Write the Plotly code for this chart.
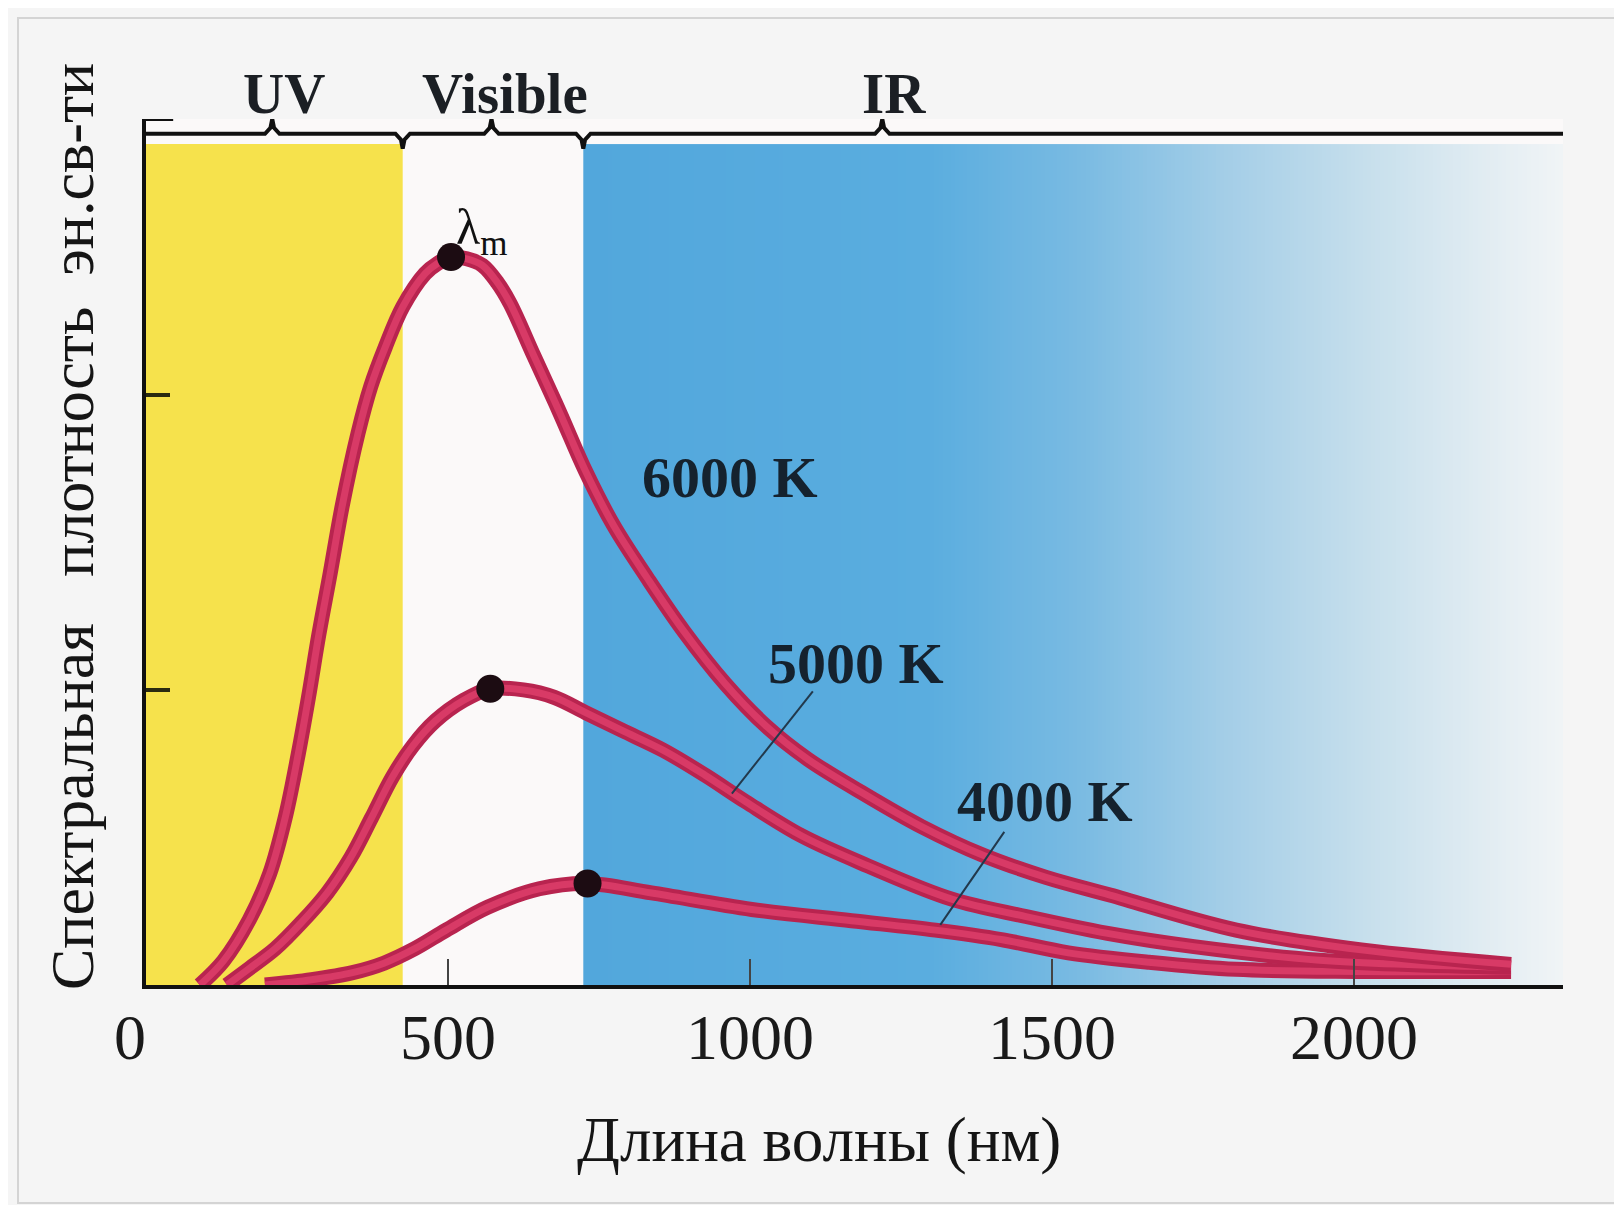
import numpy as np
import plotly.graph_objects as go

# ---------------- data ----------------
# wavelength (nm) / spectral energy density (arbitrary units, y-ticks at 1 and 2)
wl_6000 = [89, 128, 171, 205, 231, 252, 269, 286, 305, 325, 351, 372, 396, 425, 462, 483,
           505, 531, 557, 582, 603, 642, 685, 728, 774, 830, 890, 959, 1027, 1096, 1182,
           1284, 1387, 1490, 1596, 1805, 2012, 2260]
u_6000 = [0.00, 0.081, 0.221, 0.379, 0.572, 0.782, 0.975, 1.186, 1.396, 1.625, 1.870, 2.028,
          2.161, 2.298, 2.411, 2.446, 2.467, 2.461, 2.439, 2.380, 2.309, 2.133, 1.940, 1.740,
          1.558, 1.379, 1.200, 1.021, 0.877, 0.765, 0.656, 0.537, 0.439, 0.365, 0.305,
          0.186, 0.119, 0.070]

wl_5000 = [134, 171, 214, 257, 300, 339, 373, 408, 442, 479, 526, 570, 625, 676, 728, 788,
           856, 925, 993, 1086, 1195, 1334, 1457, 1592, 1735, 1943, 2260]
u_5000 = [0.00, 0.056, 0.123, 0.211, 0.312, 0.432, 0.565, 0.705, 0.811, 0.895, 0.965, 1.004,
          1.000, 0.975, 0.923, 0.863, 0.796, 0.712, 0.621, 0.505, 0.404, 0.291, 0.232, 0.175,
          0.130, 0.084, 0.060]

wl_4000 = [197, 274, 342, 394, 445, 497, 565, 651, 731, 837, 1003, 1168, 1307, 1416, 1527,
           1661, 1805, 2012, 2260]
u_4000 = [0.00, 0.018, 0.042, 0.074, 0.123, 0.186, 0.263, 0.326, 0.344, 0.312, 0.256, 0.218,
          0.186, 0.154, 0.109, 0.077, 0.053, 0.046, 0.046]

curve_labels = ["6000 K", "5000 K", "4000 K"]
label_x = [967, 1175, 1488]
label_y = [1.72, 1.088, 0.621]

# peaks (lambda_m)
peak_wl = [505, 570, 731]
peak_u = [2.467, 1.004, 0.344]

# leader lines for the 5000 K and 4000 K labels: (x0, y0, x1, y1)
leader_5000 = [1104, 0.995, 970, 0.649]
leader_4000 = [1421, 0.519, 1315, 0.204]

# spectral regions
region_names = ["UV", "Visible", "IR"]
region_centres = [228, 594, 1238]
region_ticks = [209, 572, 1219]
region_edges = [425, 724]

x_ticks = [0, 500, 1000, 1500, 2000]
x_tick_text = ["0\u00a0\u00a0", "500", "1000", "1500", "2000"]
y_ticks = [1, 2]

X_MAX = 2346
Y_MAX = 2.935
BAND_TOP = 2.85
BRACKET_Y = 2.885

# ---------------- figure ----------------
W, H = 1622, 1205
ML, MR, MT, MB = 138, 67, 111, 228
PW, PH = W - ML - MR, H - MT - MB

fig = go.Figure()

# IR band: horizontal blue -> white gradient
nb = 240
xe = np.linspace(region_edges[1], X_MAX, nb + 1)
ramp = np.linspace(0, 1, nb)
fig.add_trace(go.Heatmap(
    x=xe, y=[0, BAND_TOP], z=[ramp],
    colorscale=[[0.0, '#52a7dc'], [0.35, '#5aaddf'], [0.50, '#78bae2'],
                [0.65, '#a2cde7'], [0.80, '#c6dfec'], [0.92, '#e1ecf2'], [1.0, '#f0f4f6']],
    showscale=False, hoverinfo='skip', zmin=0, zmax=1))

# curves (outer dark stroke + lighter core)
series = [(wl_4000, u_4000), (wl_5000, u_5000), (wl_6000, u_6000)]
for wl, u in series:
    fig.add_trace(go.Scatter(x=wl, y=u, mode='lines',
                             line=dict(color='#b8244f', width=15, shape='spline', smoothing=1.0),
                             hoverinfo='skip'))
    fig.add_trace(go.Scatter(x=wl, y=u, mode='lines',
                             line=dict(color='#d83a66', width=7, shape='spline', smoothing=1.0),
                             hoverinfo='skip'))

# peak dots
fig.add_trace(go.Scatter(x=peak_wl, y=peak_u, mode='markers',
                         marker=dict(color='#1c0c12', size=28), hoverinfo='skip'))

# leader lines
for ld in (leader_5000, leader_4000):
    fig.add_trace(go.Scatter(x=[ld[0], ld[2]], y=[ld[1], ld[3]], mode='lines',
                             line=dict(color='#22394c', width=2), hoverinfo='skip'))

# bracket along the top
bx, by = [0], [BRACKET_Y]
marks = sorted([(c, 0.05) for c in region_ticks] + [(e, -0.05) for e in region_edges])
for pos, d in marks:
    bx += [pos - 12, pos - 3, pos, pos + 3, pos + 12]
    by += [BRACKET_Y, BRACKET_Y + d * 0.4, BRACKET_Y + d, BRACKET_Y + d * 0.4, BRACKET_Y]
bx.append(X_MAX)
by.append(BRACKET_Y)
fig.add_trace(go.Scatter(x=bx, y=by, mode='lines', line=dict(color='#111111', width=4),
                         hoverinfo='skip', cliponaxis=False))
# small corner at the top of the y-axis
fig.add_trace(go.Scatter(x=[0, 45], y=[Y_MAX, Y_MAX], mode='lines',
                         line=dict(color='#111111', width=4), hoverinfo='skip', cliponaxis=False))

# yellow UV band
fig.add_shape(type='rect', xref='x', yref='y', x0=0, x1=region_edges[0], y0=0, y1=BAND_TOP,
              fillcolor='#f6e24c', line=dict(width=0), layer='below')

# outer frame of the scanned page
fig.add_shape(type='rect', xref='paper', yref='paper',
              x0=(10 - ML) / PW, x1=(W - 10 - ML) / PW,
              y0=-(H - 10 - (MT + PH)) / PH, y1=1 + (MT - 10) / PH,
              line=dict(color='#d4d4d4', width=2), fillcolor='rgba(0,0,0,0)', layer='below')

serif = "Liberation Serif"
ann = []
for name, c in zip(region_names, region_centres):
    ann.append(dict(x=c, y=1 + (MT - 85) / PH, xref='x', yref='paper', text=f"<b>{name}</b>",
                    showarrow=False, xanchor='center', yanchor='middle',
                    font=dict(family=serif, size=57, color='#1b1f24')))
for t, lx, ly in zip(curve_labels, label_x, label_y):
    ann.append(dict(x=lx, y=ly, xref='x', yref='y', text=f"<b>{t}</b>", showarrow=False,
                    xanchor='center', yanchor='middle',
                    font=dict(family=serif, size=58, color='#15222e')))
ann.append(dict(x=peak_wl[0] + 50, y=2.555, xref='x', yref='y', text="λ<sub>m</sub>",
                showarrow=False, xanchor='center', yanchor='middle',
                font=dict(family=serif, size=50, color='#111111')))
ann.append(dict(x=(811 - ML) / PW, y=-(1132 - (MT + PH)) / PH, xref='paper', yref='paper',
                text="Длина волны (нм)", showarrow=False, xanchor='center', yanchor='middle',
                font=dict(family=serif, size=63, color='#151515')))
ann.append(dict(x=(64 - ML) / PW, y=(MT + PH - 519) / PH, xref='paper', yref='paper',
                text="Спектральная\u00a0\u00a0\u00a0плотность\u00a0\u00a0эн.св-ти", textangle=-90,
                showarrow=False, xanchor='center', yanchor='middle',
                font=dict(family=serif, size=62, color='#151515')))

fig.update_layout(
    width=W, height=H,
    margin=dict(l=ML, r=MR, t=MT, b=MB),
    paper_bgcolor='#f5f5f5', plot_bgcolor='#fbf9f9',
    showlegend=False, annotations=ann,
    xaxis=dict(range=[0, X_MAX], tickvals=x_ticks, ticktext=x_tick_text, ticks='inside',
               ticklen=26, tickwidth=2, tickcolor='#444444', showgrid=False, zeroline=False,
               showline=True, linecolor='#111111', linewidth=4,
               tickfont=dict(family=serif, size=64, color='#1a1a1a'), ticklabelstandoff=-7),
    yaxis=dict(range=[0, Y_MAX], tickvals=y_ticks, ticks='inside', ticklen=24, tickwidth=4,
               tickcolor='#2a2a10', showticklabels=False, showgrid=False, zeroline=False,
               showline=True, linecolor='#111111', linewidth=4),
)

fig.write_html("out.html")
